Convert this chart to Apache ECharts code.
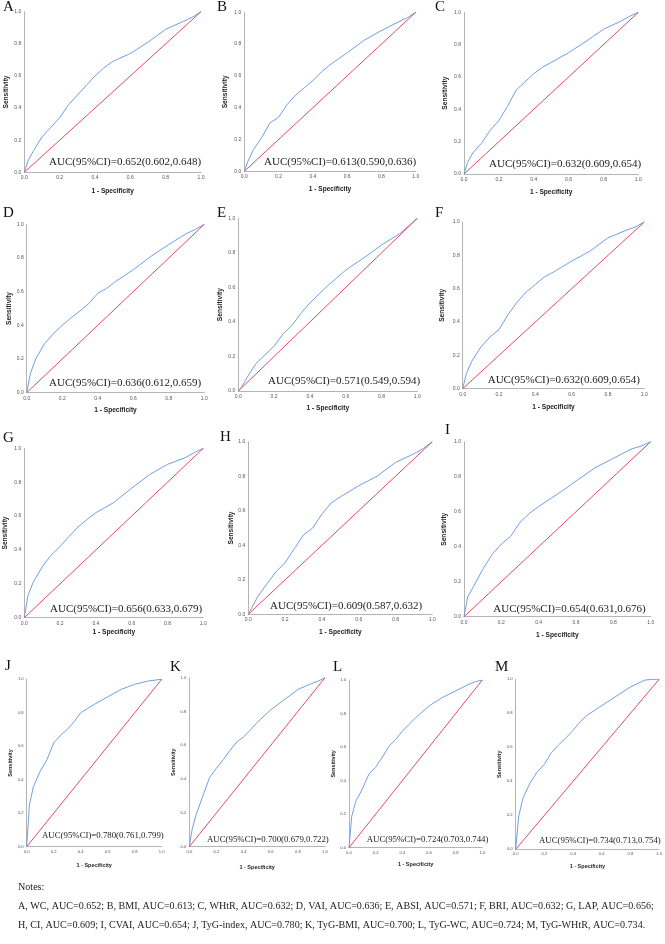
<!DOCTYPE html>
<html><head><meta charset="utf-8">
<script src="https://cdn.jsdelivr.net/npm/echarts@6/dist/echarts.min.js"></script>
<style>html,body{margin:0;padding:0;background:#fff}#c{width:665px;height:944px}</style>
</head><body><div id="c"></div>
<script>
// ---------- DATA ----------
const panelLetters = ['A','B','C','D','E','F','G','H','I','J','K','L','M'];
const fpr = [0, 0.02, 0.05, 0.1, 0.15, 0.2, 0.25, 0.3, 0.35, 0.4, 0.45, 0.5, 0.6, 0.7, 0.8, 0.9, 0.95, 1];
const tprA = [0, 0.07, 0.13, 0.22, 0.28, 0.34, 0.42, 0.48, 0.54, 0.60, 0.65, 0.69, 0.74, 0.81, 0.89, 0.94, 0.965, 1];
const tprB = [0, 0.06, 0.13, 0.21, 0.305, 0.34, 0.42, 0.48, 0.525, 0.57, 0.625, 0.67, 0.745, 0.825, 0.885, 0.94, 0.965, 1];
const tprC = [0, 0.07, 0.13, 0.19, 0.27, 0.33, 0.42, 0.52, 0.57, 0.62, 0.66, 0.69, 0.75, 0.82, 0.895, 0.945, 0.975, 1];
const tprD = [0, 0.11, 0.20, 0.29, 0.35, 0.40, 0.445, 0.485, 0.53, 0.59, 0.62, 0.66, 0.73, 0.81, 0.88, 0.945, 0.97, 1];
const tprE = [0, 0.025, 0.08, 0.16, 0.21, 0.26, 0.33, 0.38, 0.45, 0.51, 0.56, 0.61, 0.70, 0.77, 0.845, 0.91, 0.955, 1];
const tprF = [0, 0.09, 0.165, 0.25, 0.31, 0.355, 0.445, 0.52, 0.58, 0.625, 0.67, 0.70, 0.765, 0.825, 0.905, 0.95, 0.97, 1];
const tprG = [0, 0.13, 0.21, 0.30, 0.37, 0.42, 0.48, 0.535, 0.58, 0.62, 0.65, 0.68, 0.765, 0.845, 0.905, 0.945, 0.975, 1];
const tprH = [0, 0.04, 0.10, 0.175, 0.245, 0.30, 0.38, 0.46, 0.50, 0.58, 0.645, 0.68, 0.745, 0.80, 0.88, 0.93, 0.96, 1];
const tprI = [0, 0.115, 0.17, 0.27, 0.355, 0.415, 0.46, 0.54, 0.59, 0.63, 0.665, 0.70, 0.775, 0.85, 0.905, 0.96, 0.975, 1];
const tprJ = [0, 0.25, 0.36, 0.45, 0.52, 0.62, 0.665, 0.70, 0.745, 0.80, 0.825, 0.85, 0.895, 0.94, 0.97, 0.99, 0.995, 1];
const tprK = [0, 0.10, 0.19, 0.30, 0.41, 0.465, 0.515, 0.57, 0.62, 0.65, 0.69, 0.735, 0.81, 0.87, 0.93, 0.965, 0.98, 1];
const tprL = [0, 0.185, 0.275, 0.35, 0.44, 0.48, 0.54, 0.605, 0.645, 0.695, 0.735, 0.775, 0.845, 0.895, 0.935, 0.975, 0.99, 1];
const tprM = [0, 0.19, 0.30, 0.39, 0.455, 0.50, 0.57, 0.615, 0.655, 0.70, 0.75, 0.79, 0.845, 0.90, 0.955, 0.995, 1.0, 1];
const tprList = [tprA, tprB, tprC, tprD, tprE, tprF, tprG, tprH, tprI, tprJ, tprK, tprL, tprM];
const diagonal = [[0, 0], [1, 1]];
const aucLabels = [
  'AUC(95%CI)=0.652(0.602,0.648)', 'AUC(95%CI)=0.613(0.590,0.636)', 'AUC(95%CI)=0.632(0.609,0.654)',
  'AUC(95%CI)=0.636(0.612,0.659)', 'AUC(95%CI)=0.571(0.549,0.594)', 'AUC(95%CI)=0.632(0.609,0.654)',
  'AUC(95%CI)=0.656(0.633,0.679)', 'AUC(95%CI)=0.609(0.587,0.632)', 'AUC(95%CI)=0.654(0.631,0.676)',
  'AUC(95%CI)=0.780(0.761,0.799)', 'AUC(95%CI)=0.700(0.679,0.722)', 'AUC(95%CI)=0.724(0.703,0.744)',
  'AUC(95%CI)=0.734(0.713,0.754)'
];
const xAxisName = '1 - Specificity';
const yAxisName = 'Sensitivity';
const tickMin = 0, tickMax = 1, tickInterval = 0.2;
const notesTitle = 'Notes:';
const notesLine1 = 'A, WC, AUC=0.652; B, BMI, AUC=0.613; C, WHtR, AUC=0.632; D, VAI, AUC=0.636; E, ABSI, AUC=0.571; F, BRI, AUC=0.632; G, LAP, AUC=0.656;';
const notesLine2 = 'H, CI, AUC=0.609; I, CVAI, AUC=0.654; J, TyG-index, AUC=0.780; K, TyG-BMI, AUC=0.700; L, TyG-WC, AUC=0.724; M, TyG-WHtR, AUC=0.734.';

// ---------- LAYOUT (pixels) ----------
// x0,x1: plot left/right; yT,yB: plot top/bottom; lx,ly: letter; sx: y-name center x; ny: x-name center y; ax,ay: AUC text; s: small row
const layout = [
  {x0:24.3, x1:201,   yT:11.7,  yB:172.3, lx:3,   ly:7,     sx:6,     ny:190.5, ax:49,    ay:162,   s:0},
  {x0:244.3,x1:415.7, yT:12.3,  yB:171.3, lx:217, ly:7,     sx:225,   ny:189.3, ax:264,   ay:162,   s:0},
  {x0:464,  x1:638.3, yT:12.3,  yB:174,   lx:435, ly:7,     sx:445,   ny:191.7, ax:489,   ay:164,   s:0},
  {x0:26.7, x1:204.3, yT:224.3, yB:392.7, lx:3,   ly:213,   sx:10,    ny:410,   ax:49,    ay:383,   s:0},
  {x0:238.3,x1:417.3, yT:218.3, yB:391,   lx:217, ly:213,   sx:220,   ny:408.3, ax:268,   ay:381,   s:0},
  {x0:462.7,x1:644.3, yT:222,   yB:388.7, lx:435, ly:213,   sx:442.7, ny:406.7, ax:487.7, ay:380,   s:0},
  {x0:24.3, x1:203.3, yT:448.3, yB:617.7, lx:3,   ly:437.7, sx:5,     ny:632,   ax:50,    ay:609,   s:0},
  {x0:248.3,x1:432.3, yT:441.7, yB:614.3, lx:220, ly:436.7, sx:233,   ny:632,   ax:270,   ay:605.7, s:0},
  {x0:464,  x1:650.7, yT:441.7, yB:616.7, lx:445, ly:430,   sx:444.3, ny:635,   ax:493.3, ay:609,   s:0},
  {x0:26.7, x1:161.7, yT:679.3, yB:846.7, lx:5,   ly:666,   sx:13,    ny:865,   ax:42,    ay:836,   s:1},
  {x0:189.3,x1:325,   yT:677.7, yB:846.7, lx:170, ly:666.7, sx:177,   ny:867,   ax:207,   ay:840,   s:1},
  {x0:349,  x1:482.3, yT:680,   yB:847.7, lx:333, ly:667,   sx:335,   ny:864,   ax:366.7, ay:840,   s:1},
  {x0:515.7,x1:661.7, yT:679.3, yB:849.3, lx:495, ly:667,   sx:500.7, ny:866.7, ax:539,   ay:840.7, s:1}
];

const BLUE = '#6f9fe6', RED = '#e5496c', AXIS = '#b4b4b4';
const SERIF = '"Liberation Serif", "Times New Roman", serif';
const SANS = '"Liberation Sans", Arial, sans-serif';
const NOTE_FS = 10.1;

const grids = [], xAxes = [], yAxes = [], series = [], graphics = [];
layout.forEach((L, i) => {
  const nameFs = L.s ? 5.5 : 6.6;
  const tickFs = L.s ? 4.2 : 5;
  const aucFs = L.s ? 8.8 : 11;
  grids.push({left: L.x0, top: L.yT, width: L.x1 - L.x0, height: L.yB - L.yT, containLabel: false});
  const axisCommon = {
    gridIndex: i, type: 'value', min: tickMin, max: tickMax, interval: tickInterval,
    axisLine: {show: true, onZero: false, lineStyle: {color: AXIS, width: 1}},
    axisTick: {show: false}, splitLine: {show: false},
    axisLabel: {fontSize: tickFs, color: '#555', margin: 3, fontFamily: SANS, formatter: v => v.toFixed(1)},
    nameLocation: 'middle',
    nameTextStyle: {fontSize: nameFs, fontWeight: 'bold', color: '#222', fontFamily: SANS}
  };
  xAxes.push(Object.assign({}, axisCommon, {name: xAxisName, nameGap: L.ny - L.yB - nameFs / 2}));
  yAxes.push(Object.assign({}, axisCommon, {name: yAxisName, nameGap: L.x0 - L.sx - nameFs / 2}));
  series.push({
    type: 'line', xAxisIndex: i, yAxisIndex: i, showSymbol: false, silent: true,
    data: fpr.map((f, k) => [f, tprList[i][k]]),
    lineStyle: {color: BLUE, width: 1}
  });
  series.push({
    type: 'line', xAxisIndex: i, yAxisIndex: i, showSymbol: false, silent: true,
    data: diagonal, lineStyle: {color: RED, width: 1}
  });
  graphics.push({type: 'text', x: L.lx, y: L.ly, style: {text: panelLetters[i], fontSize: 15, fontFamily: SERIF, fill: '#111', align: 'left', verticalAlign: 'middle'}});
  graphics.push({type: 'text', x: L.ax, y: L.ay, style: {text: aucLabels[i], fontSize: aucFs, fontFamily: SERIF, fill: '#222', align: 'left', verticalAlign: 'middle'}});
});
graphics.push({type: 'text', x: 18, y: 887, style: {text: notesTitle, fontSize: NOTE_FS, fontFamily: SERIF, fill: '#222', verticalAlign: 'middle'}});
graphics.push({type: 'text', x: 18, y: 906.5, style: {text: notesLine1, fontSize: NOTE_FS, fontFamily: SERIF, fill: '#222', verticalAlign: 'middle'}});
graphics.push({type: 'text', x: 18, y: 925, style: {text: notesLine2, fontSize: NOTE_FS, fontFamily: SERIF, fill: '#222', verticalAlign: 'middle'}});

const chart = echarts.init(document.getElementById('c'), null, {renderer: 'canvas'});
chart.setOption({
  animation: false,
  backgroundColor: '#fff',
  grid: grids, xAxis: xAxes, yAxis: yAxes, series: series, graphic: graphics
});
</script></body></html>
